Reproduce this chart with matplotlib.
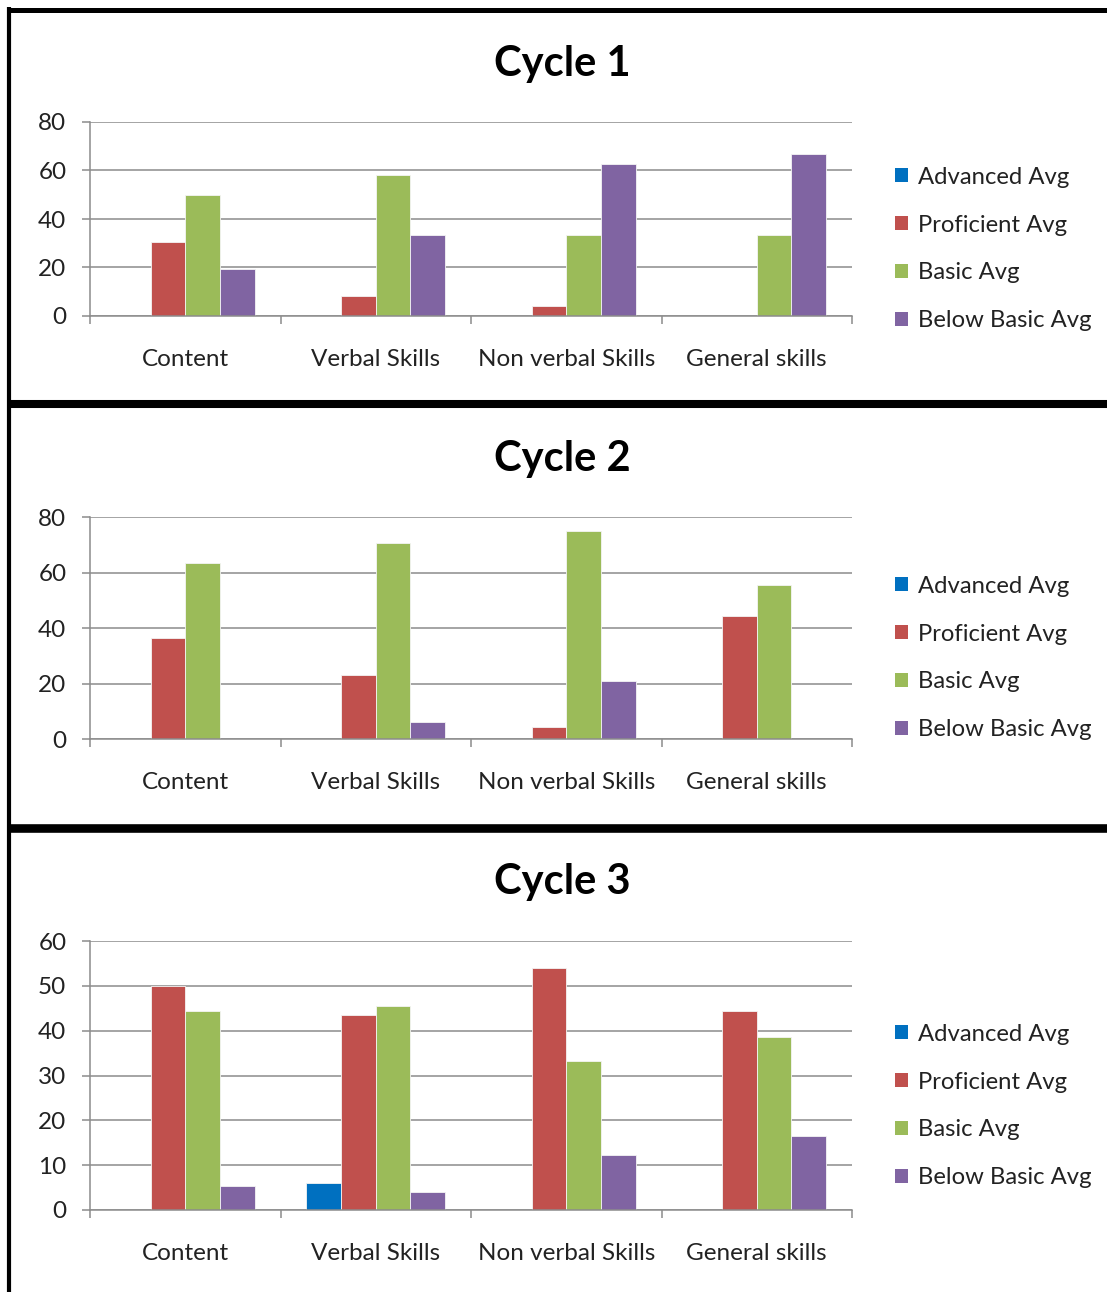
import numpy as np
import matplotlib
matplotlib.use('Agg')
import matplotlib.pyplot as plt
from matplotlib.patches import Patch
from matplotlib.lines import Line2D

plt.rcParams['font.family'] = ['Lato', 'DejaVu Sans']

# ── Data ────────────────────────────────────────────────────────────────────
SKILLS = ['Content', 'Verbal Skills', 'Non verbal Skills', 'General skills']
LEVELS = ['Advanced Avg', 'Proficient Avg', 'Basic Avg', 'Below Basic Avg']
LEVEL_COLORS = ['#0070C0', '#C0504D', '#9BBB59', '#8064A2']

CYCLE1_ADVANCED = [0, 0, 0, 0]
CYCLE1_PROFICIENT = [30.6, 8.3, 4.2, 0]
CYCLE1_BASIC = [50.0, 58.3, 33.3, 33.3]
CYCLE1_BELOW = [19.4, 33.3, 62.5, 66.7]

CYCLE2_ADVANCED = [0, 0, 0, 0]
CYCLE2_PROFICIENT = [36.4, 22.9, 4.2, 44.4]
CYCLE2_BASIC = [63.6, 70.8, 75.0, 55.6]
CYCLE2_BELOW = [0, 6.3, 20.8, 0]

CYCLE3_ADVANCED = [0, 6.0, 0, 0]
CYCLE3_PROFICIENT = [50.0, 43.5, 54.0, 44.4]
CYCLE3_BASIC = [44.4, 45.5, 33.3, 38.6]
CYCLE3_BELOW = [5.3, 4.0, 12.3, 16.4]

CYCLES = [
    ('Cycle 1', [CYCLE1_ADVANCED, CYCLE1_PROFICIENT, CYCLE1_BASIC, CYCLE1_BELOW], 80, 20),
    ('Cycle 2', [CYCLE2_ADVANCED, CYCLE2_PROFICIENT, CYCLE2_BASIC, CYCLE2_BELOW], 80, 20),
    ('Cycle 3', [CYCLE3_ADVANCED, CYCLE3_PROFICIENT, CYCLE3_BASIC, CYCLE3_BELOW], 60, 10),
]

# ── Layout (pixels, measured from top-left) ─────────────────────────────────
W, H = 1107, 1292
PLOT_BOXES = [(90, 122, 852, 316), (90, 517, 852, 739), (90, 941, 852, 1210)]
TITLE_Y = [64, 459, 882]
LEGEND_Y = [249, 658, 1106]
GRID_COLOR = '#8c8c8c'
TEXT_COLOR = '#222222'

fig = plt.figure(figsize=(W / 100, H / 100), dpi=100)


def px_axes(x0, y0, x1, y1):
    return fig.add_axes([x0 / W, 1 - y1 / H, (x1 - x0) / W, (y1 - y0) / H])


bar_w = 1 / 5.5
centers = np.arange(len(SKILLS)) + 0.5

for (title, series, ymax, ystep), box, ty, ly in zip(CYCLES, PLOT_BOXES, TITLE_Y, LEGEND_Y):
    ax = px_axes(*box)
    for i, (vals, color) in enumerate(zip(series, LEVEL_COLORS)):
        ax.bar(centers + (i - 1.5) * bar_w, vals, width=bar_w, color=color,
               edgecolor='#f4f4f4', linewidth=0.6, zorder=2)

    ax.set_xlim(0, len(SKILLS))
    ax.set_ylim(0, ymax)
    ax.set_yticks(np.arange(0, ymax + 1, ystep))
    ax.set_xticks(np.arange(len(SKILLS) + 1))
    ax.set_xticklabels([])
    ax.set_xticks(centers, minor=True)
    ax.set_xticklabels(SKILLS, minor=True)

    ax.set_axisbelow(True)
    ax.yaxis.grid(True, color=GRID_COLOR, linewidth=1.1)
    for side in ('top', 'right'):
        ax.spines[side].set_visible(False)
    for side in ('left', 'bottom'):
        ax.spines[side].set_color(GRID_COLOR)
        ax.spines[side].set_linewidth(1.1)

    ax.tick_params(axis='y', which='major', length=6, width=1.1, color=GRID_COLOR,
                   pad=11, labelsize=17.5, labelcolor=TEXT_COLOR)
    ax.tick_params(axis='x', which='major', length=6, width=1.1, color=GRID_COLOR)
    ax.tick_params(axis='x', which='minor', length=0, pad=23.5,
                   labelsize=17.5, labelcolor=TEXT_COLOR)

    fig.text(562 / W, 1 - ty / H, title, ha='center', va='center',
             fontsize=30, fontweight='bold', color='black')

    handles = [Patch(facecolor=c, edgecolor='none', label=l)
               for c, l in zip(LEVEL_COLORS, LEVELS)]
    ax.legend(handles=handles, loc='center left',
              bbox_to_anchor=(895 / W, 1 - ly / H), bbox_transform=fig.transFigure,
              frameon=False, fontsize=17.2, handlelength=0.55, handleheight=0.55,
              handletextpad=0.4, labelspacing=1.13, borderpad=0, borderaxespad=0,
              labelcolor=TEXT_COLOR)

# panel frames: left edge, top edge and the thick dividers between cycles
frame_lines = [
    ((9, 9), (7, H), 3.0),
    ((7, W), (9.5, 9.5), 3.6),
    ((7, W), (404, 404), 5.8),
    ((7, W), (827.5, 827.5), 6.2),
]
for xs, ys, lw in frame_lines:
    fig.add_artist(Line2D([x / W for x in xs], [1 - y / H for y in ys],
                          transform=fig.transFigure, color='black', linewidth=lw,
                          solid_capstyle='butt'))

fig.savefig('out.png', dpi=100)
